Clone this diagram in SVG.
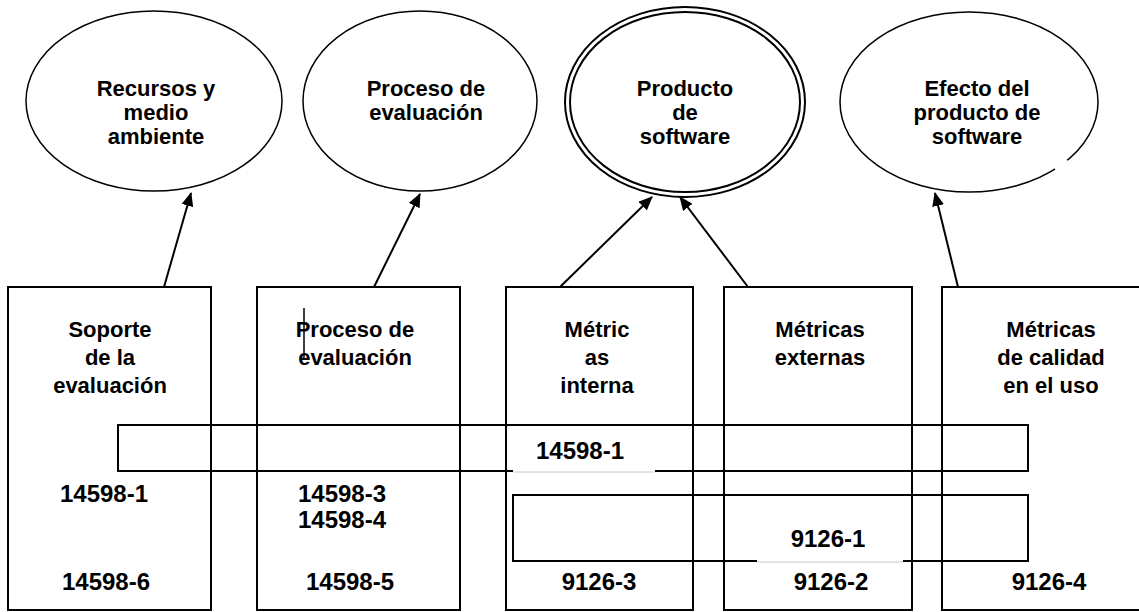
<svg xmlns="http://www.w3.org/2000/svg" width="1139" height="612" viewBox="0 0 1139 612">
<style>
  .ell { fill: none; stroke: #000; stroke-width: 1.5; }
  .box { fill: none; stroke: #000; stroke-width: 2; }
  .band { fill: none; stroke: #000; stroke-width: 2; }
  .tbox { fill: #fff; stroke: none; }
  .faint { stroke: #c8c8c8; stroke-width: 1; }
  .conn { stroke: #000; stroke-width: 2; fill: none; marker-end: url(#arr); }
  text { font-family: "Liberation Sans", Arial, sans-serif; font-weight: bold; fill: #000; text-anchor: middle; }
  .lbl { font-size: 22px; }
  .num { font-size: 24px; }
</style>
<defs>
  <marker id="arr" markerWidth="14" markerHeight="12" refX="13" refY="6" orient="auto" markerUnits="userSpaceOnUse" viewBox="0 0 14 12">
    <path d="M0,0 L14,6 L0,12 z" fill="#000"/>
  </marker>
</defs>
<rect width="1139" height="612" fill="#fff"/>

<g id="bands">
  <rect class="band" x="118" y="425" width="910" height="46"/>
  <rect class="band" x="513" y="495" width="515" height="66"/>
</g>

<g id="e-recursos">
  <ellipse class="ell" cx="154" cy="101" rx="128" ry="90"/>
  <text class="lbl" x="156" y="96">Recursos y</text>
  <text class="lbl" x="156" y="120">medio</text>
  <text class="lbl" x="156" y="144">ambiente</text>
</g>
<g id="e-proceso">
  <ellipse class="ell" cx="420" cy="101" rx="117" ry="90"/>
  <text class="lbl" x="426" y="96">Proceso de</text>
  <text class="lbl" x="426" y="120">evaluación</text>
</g>
<g id="e-producto">
  <ellipse cx="685" cy="102" rx="120" ry="95" fill="none" stroke="#000" stroke-width="2"/>
  <ellipse cx="685" cy="102" rx="115" ry="90" fill="none" stroke="#000" stroke-width="2"/>
  <text class="lbl" x="685" y="96">Producto</text>
  <text class="lbl" x="685" y="120">de</text>
  <text class="lbl" x="685" y="144">software</text>
</g>
<g id="e-efecto">
  <ellipse class="ell" cx="969" cy="102" rx="129" ry="90"/>
  <line x1="1055" y1="169" x2="1067" y2="160" stroke="#fff" stroke-width="4"/>
  <text class="lbl" x="977" y="96">Efecto del</text>
  <text class="lbl" x="977" y="120">producto de</text>
  <text class="lbl" x="977" y="144">software</text>
</g>

<g id="b-soporte">
  <rect class="box" x="8" y="287" width="203" height="323"/>
  <text class="lbl" x="110" y="337">Soporte</text>
  <text class="lbl" x="110" y="365">de la</text>
  <text class="lbl" x="110" y="393">evaluación</text>
  <text class="num" x="104" y="502">14598-1</text>
  <text class="num" x="106" y="590">14598-6</text>
</g>
<g id="b-proceso">
  <rect class="box" x="257" y="287" width="203" height="323"/>
  <line x1="304" y1="308" x2="304" y2="358" stroke="#000" stroke-width="1.5"/>
  <text class="lbl" x="355" y="337">Proceso de</text>
  <text class="lbl" x="355" y="365">evaluación</text>
  <text class="num" x="342" y="502">14598-3</text>
  <text class="num" x="342" y="528">14598-4</text>
  <text class="num" x="350" y="590">14598-5</text>
</g>
<g id="b-internas">
  <rect class="box" x="506" y="287" width="187" height="323"/>
  <text class="lbl" x="597" y="337">Métric</text>
  <text class="lbl" x="597" y="365">as</text>
  <text class="lbl" x="597" y="393">interna</text>
  <text class="num" x="599" y="590">9126-3</text>
</g>
<g id="b-externas">
  <rect class="box" x="724" y="287" width="188" height="323"/>
  <text class="lbl" x="820" y="337">Métricas</text>
  <text class="lbl" x="820" y="365">externas</text>
  <text class="num" x="831" y="590">9126-2</text>
</g>
<g id="b-calidad">
  <rect class="box" x="942" y="287" width="220" height="323"/>
  <text class="lbl" x="1051" y="337">Métricas</text>
  <text class="lbl" x="1051" y="365">de calidad</text>
  <text class="lbl" x="1051" y="393">en el uso</text>
  <text class="num" x="1049" y="590">9126-4</text>
</g>

<g id="band-labels">
  <rect class="tbox" x="513" y="428" width="142" height="46"/>
  <line class="faint" x1="513" y1="472" x2="655" y2="472"/>
  <text class="num" x="580" y="459">14598-1</text>
  <rect class="tbox" x="757" y="520" width="146" height="43"/>
  <line class="faint" x1="757" y1="562" x2="903" y2="562"/>
  <text class="num" x="828" y="547">9126-1</text>
</g>

<g id="connectors">
  <line class="conn" x1="164" y1="287" x2="191" y2="193"/>
  <line class="conn" x1="374" y1="287" x2="420" y2="194"/>
  <line class="conn" x1="560" y1="287" x2="652" y2="197"/>
  <line class="conn" x1="748" y1="287" x2="680" y2="197"/>
  <line class="conn" x1="958" y1="287" x2="935" y2="193"/>
</g>
</svg>
